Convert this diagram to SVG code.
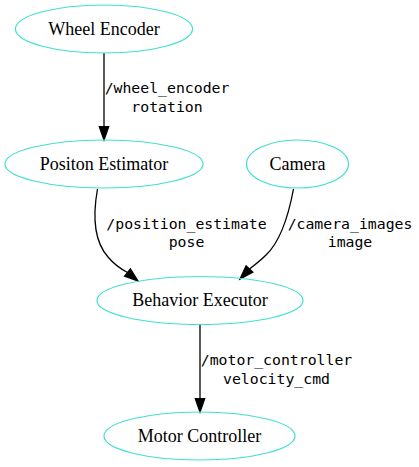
<svg xmlns="http://www.w3.org/2000/svg" width="419" height="467" viewBox="0 0 419 467">
<style>
.node ellipse{fill:none;stroke:#40e0d0;stroke-width:1.2}
.node text{font-family:"Liberation Serif","Times New Roman",serif;font-size:18px;text-anchor:middle;fill:#000}
.edges path{fill:none;stroke:#000;stroke-width:1.3}
.edges polygon{fill:#000;stroke:#000;stroke-width:1.3}
.edges text{font-family:"DejaVu Sans Mono","Liberation Mono",monospace;font-size:14.8px;text-anchor:middle;fill:#000}
</style>
<rect width="419" height="467" fill="#fff"/>
<g id="edges" class="edges">
<path d="M104,53 L104,126.7"/>
<polygon points="99.3,126.7 108.7,126.7 104,140"/>
<text x="167" y="92.5">/wheel_encoder</text>
<text x="167" y="111.5">rotation</text>
<path d="M97.5,189 C93,214 93,240 108,257 C113,263 119,268 127.5,272.5"/>
<polygon points="130.4,268.9 124.6,276.1 138,281"/>
<text x="186.5" y="228.5">/position_estimate</text>
<text x="186.5" y="247">pose</text>
<path d="M293.5,189 C289,213 282,240 266,255 C262,259 256,264 249.5,269"/>
<polygon points="252.9,272.2 246.1,265.8 240,279"/>
<text x="350" y="228.5">/camera_images</text>
<text x="350" y="247">image</text>
<path d="M200,324.5 L200,398.7"/>
<polygon points="195.3,398.7 204.7,398.7 200,412"/>
<text x="276.5" y="364.5">/motor_controller</text>
<text x="276.5" y="383.5">velocity_cmd</text>
</g>
<g id="wheel_encoder" class="node"><ellipse cx="104" cy="29" rx="88.5" ry="24"/><text x="104" y="34.5">Wheel Encoder</text></g>
<g id="position_estimator" class="node"><ellipse cx="104" cy="164" rx="99" ry="24"/><text x="104" y="169.7">Positon Estimator</text></g>
<g id="camera" class="node"><ellipse cx="297.5" cy="164" rx="51" ry="24"/><text x="297.5" y="169.7">Camera</text></g>
<g id="behavior_executor" class="node"><ellipse cx="200" cy="300.5" rx="103" ry="24"/><text x="200" y="306.3">Behavior Executor</text></g>
<g id="motor_controller" class="node"><ellipse cx="199.5" cy="436" rx="95.5" ry="24"/><text x="199.5" y="441.7">Motor Controller</text></g>
</svg>
